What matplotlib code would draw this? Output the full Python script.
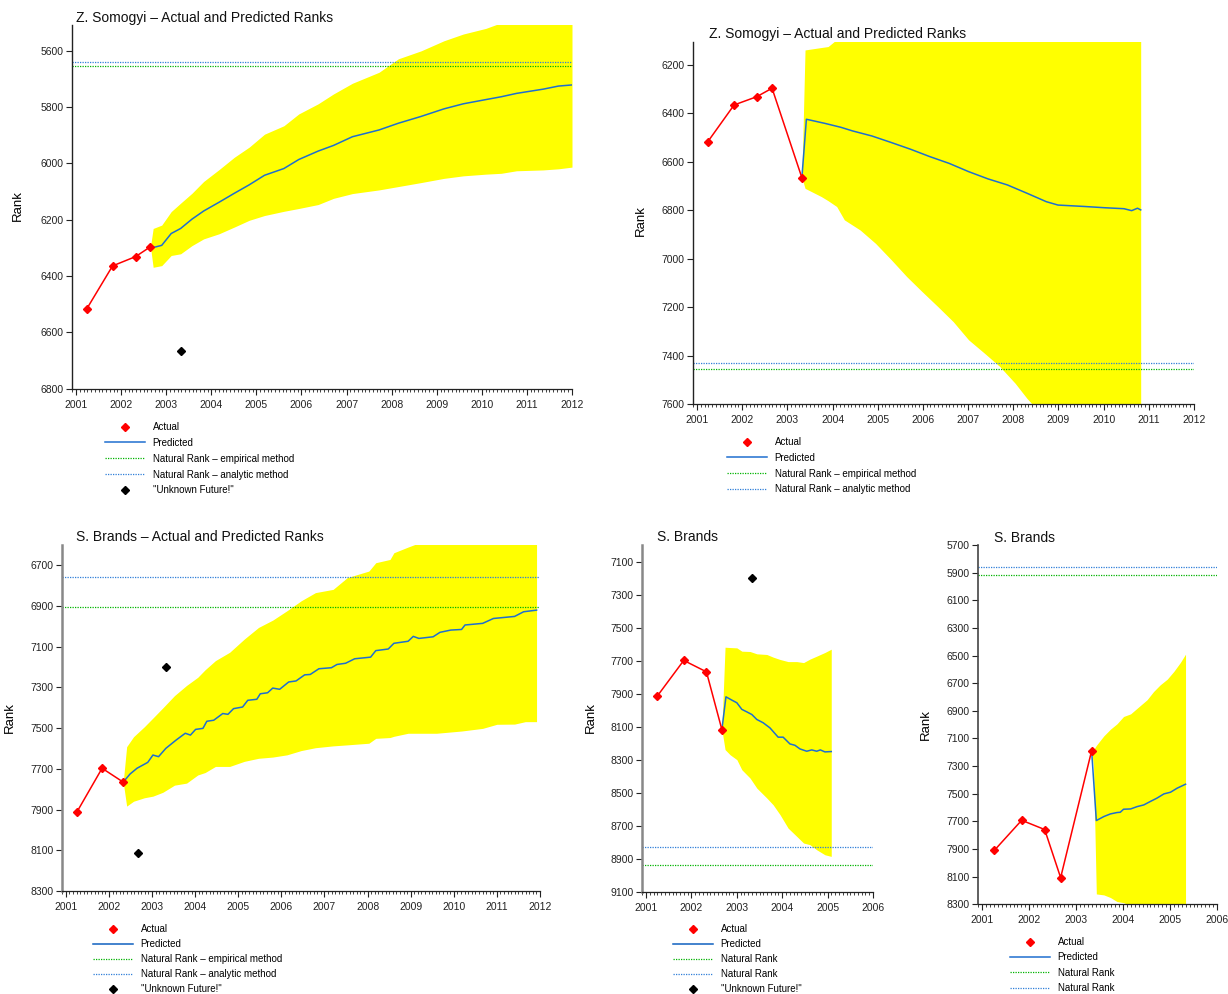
import matplotlib
matplotlib.use('Agg')
import matplotlib.pyplot as plt
import numpy as np
import matplotlib.ticker as ticker
from matplotlib.lines import Line2D

plt.rcParams['font.family'] = ['Liberation Sans', 'DejaVu Sans']

W, H = 1228, 994

# ---------------- Z. Somogyi, forecast from 2002 ----------------
zs1_actual_t = [2001.24, 2001.81, 2002.32, 2002.65]
zs1_actual = [6516, 6364, 6331, 6296]
zs1_future_t = [2003.32]
zs1_future = [6665]
zs1_pred_t = [2002.65, 2002.73, 2002.90, 2003.11, 2003.32, 2003.57, 2003.83, 2004.17, 2004.51, 2004.84,
              2005.18, 2005.61, 2005.94, 2006.37, 2006.71, 2007.13, 2007.72, 2008.15, 2008.65, 2009.16,
              2009.59, 2010.09, 2010.43, 2010.77, 2011.36, 2011.70, 2012.0]
zs1_pred = [6296, 6298, 6291, 6249, 6231, 6198, 6169, 6138, 6106, 6076,
            6042, 6018, 5986, 5956, 5936, 5905, 5881, 5857, 5833, 5806,
            5788, 5773, 5763, 5751, 5736, 5725, 5721]
zs1_band_t = [2002.65, 2002.71, 2002.90, 2003.11, 2003.32, 2003.57, 2003.83, 2004.17, 2004.51, 2004.84,
              2005.18, 2005.61, 2005.94, 2006.37, 2006.71, 2007.13, 2007.72, 2008.15, 2008.65, 2009.16,
              2009.59, 2010.09, 2010.43, 2010.77, 2011.36, 2011.70, 2012.0]
zs1_band_hi = [6296, 6231, 6219, 6171, 6141, 6106, 6064, 6022, 5978, 5942,
               5896, 5866, 5824, 5788, 5753, 5715, 5676, 5628, 5600, 5564,
               5540, 5520, 5500, 5490, 5480, 5470, 5460]
zs1_band_lo = [6296, 6369, 6363, 6327, 6321, 6292, 6268, 6250, 6226, 6202,
               6185, 6170, 6160, 6146, 6124, 6107, 6094, 6082, 6068, 6053,
               6044, 6038, 6035, 6026, 6023, 6019, 6013]
zs1_nat_emp = 5654
zs1_nat_ana = 5638

# ---------------- Z. Somogyi, forecast from 2003 ----------------
zs2_actual_t = [2001.24, 2001.82, 2002.32, 2002.66, 2003.32]
zs2_actual = [6516, 6365, 6331, 6296, 6665]
zs2_pred_t = [2003.32, 2003.42, 2003.83, 2004.18, 2004.44, 2004.87, 2005.30, 2005.73, 2006.15, 2006.58,
              2007.01, 2007.44, 2007.87, 2008.30, 2008.73, 2008.99, 2009.59, 2010.02, 2010.45, 2010.62,
              2010.75, 2010.82]
zs2_pred = [6665, 6424, 6441, 6457, 6472, 6493, 6520, 6548, 6578, 6606,
            6640, 6670, 6695, 6729, 6764, 6778, 6784, 6789, 6793, 6801,
            6791, 6798]
zs2_band_t = [2003.32, 2003.39, 2003.75, 2003.90, 2004.09, 2004.26, 2004.61, 2004.95, 2005.30, 2005.64,
              2005.98, 2006.33, 2006.67, 2007.01, 2007.36, 2007.70, 2008.04, 2008.30, 2008.47, 2010.82]
zs2_band_hi = [6665, 6138, 6128, 6124, 6095, 6090, 6080, 6070, 6060, 6050,
               6040, 6030, 6020, 6010, 6000, 5990, 5980, 5970, 5960, 5950]
zs2_band_lo = [6665, 6709, 6743, 6760, 6784, 6839, 6881, 6936, 7004, 7073,
               7135, 7197, 7259, 7334, 7389, 7444, 7513, 7575, 7610, 7650]
zs2_nat_emp = 7455
zs2_nat_ana = 7431

# ---------------- S. Brands, forecast from 2002 ----------------
sb1_actual_t = [2001.25, 2001.84, 2002.33]
sb1_actual = [7914, 7697, 7765]
sb1_future_t = [2002.67, 2003.33]
sb1_future = [8112, 7197]
sb1_pred_t = [2002.33, 2002.49, 2002.65, 2002.90, 2003.02, 2003.15, 2003.32, 2003.56, 2003.77, 2003.89,
              2004.01, 2004.18, 2004.27, 2004.43, 2004.64, 2004.76, 2004.89, 2005.10, 2005.22, 2005.43,
              2005.51, 2005.68, 2005.80, 2005.96, 2006.17, 2006.34, 2006.54, 2006.67, 2006.87, 2007.16,
              2007.29, 2007.49, 2007.70, 2008.07, 2008.19, 2008.48, 2008.61, 2008.94, 2009.06, 2009.19,
              2009.52, 2009.68, 2009.93, 2010.18, 2010.26, 2010.67, 2010.92, 2011.41, 2011.62, 2011.92]
sb1_pred = [7765, 7725, 7697, 7668, 7632, 7640, 7599, 7558, 7525, 7534,
            7506, 7501, 7466, 7461, 7428, 7432, 7404, 7396, 7363, 7358,
            7331, 7326, 7303, 7309, 7273, 7268, 7238, 7236, 7208, 7203,
            7187, 7181, 7159, 7151, 7119, 7111, 7083, 7073, 7049, 7059,
            7051, 7029, 7018, 7015, 6993, 6985, 6961, 6951, 6928, 6920]
sb1_band_t = [2002.33, 2002.41, 2002.57, 2002.82, 2003.02, 2003.25, 2003.52, 2003.80, 2004.06, 2004.23,
              2004.47, 2004.80, 2005.14, 2005.47, 2005.80, 2006.13, 2006.46, 2006.79, 2007.20, 2007.53,
              2008.03, 2008.19, 2008.52, 2008.61, 2008.94, 2009.19, 2009.60, 2010.18, 2010.67, 2011.00,
              2011.41, 2011.66, 2011.92]
sb1_band_hi = [7765, 7591, 7542, 7493, 7450, 7400, 7340, 7290, 7250, 7213,
               7168, 7127, 7062, 7005, 6969, 6923, 6874, 6834, 6818, 6760,
               6728, 6687, 6671, 6638, 6610, 6590, 6580, 6570, 6560, 6550,
               6540, 6530, 6520]
sb1_band_lo = [7765, 7883, 7859, 7842, 7834, 7815, 7780, 7770, 7730, 7718,
               7688, 7688, 7663, 7648, 7642, 7631, 7610, 7596, 7587, 7582,
               7574, 7550, 7546, 7540, 7525, 7525, 7525, 7514, 7501, 7481,
               7480, 7468, 7468]
sb1_nat_emp = 6907
sb1_nat_ana = 6755

# ---------------- S. Brands, forecast from late 2002 ----------------
sb2_actual_t = [2001.24, 2001.83, 2002.33, 2002.67]
sb2_actual = [7916, 7698, 7767, 8116]
sb2_future_t = [2003.33]
sb2_future = [7199]
sb2_pred_t = [2002.67, 2002.76, 2002.89, 2003.00, 2003.11, 2003.22, 2003.33, 2003.44, 2003.58, 2003.73,
              2003.91, 2004.02, 2004.17, 2004.28, 2004.39, 2004.54, 2004.65, 2004.76, 2004.84, 2004.94,
              2005.08]
sb2_pred = [8116, 7918, 7938, 7954, 7994, 8009, 8025, 8055, 8075, 8106,
            8162, 8162, 8203, 8211, 8233, 8247, 8239, 8247, 8239, 8251,
            8249]
sb2_band_t = [2002.67, 2002.74, 2002.85, 2003.00, 2003.11, 2003.29, 2003.44, 2003.66, 2003.80, 2003.95,
              2004.13, 2004.32, 2004.47, 2004.61, 2004.76, 2004.94, 2005.08]
sb2_band_hi = [8116, 7618, 7620, 7622, 7642, 7644, 7658, 7662, 7678, 7692,
               7705, 7705, 7711, 7690, 7672, 7650, 7630]
sb2_band_lo = [8116, 8237, 8268, 8298, 8359, 8409, 8470, 8530, 8571, 8630,
               8712, 8762, 8802, 8812, 8843, 8873, 8883]
sb2_nat_emp = 8934
sb2_nat_ana = 8825

# ---------------- S. Brands, forecast from 2003 ----------------
sb3_actual_t = [2001.26, 2001.84, 2002.33, 2002.67, 2003.33]
sb3_actual = [7909, 7692, 7759, 8107, 7189]
sb3_pred_t = [2003.33, 2003.43, 2003.59, 2003.73, 2003.87, 2003.94, 2004.01, 2004.16, 2004.30, 2004.44,
              2004.58, 2004.72, 2004.87, 2005.01, 2005.15, 2005.33]
sb3_pred = [7189, 7694, 7665, 7646, 7636, 7634, 7612, 7610, 7593, 7581,
            7556, 7532, 7501, 7489, 7460, 7431]
sb3_band_t = [2003.33, 2003.37, 2003.43, 2003.59, 2003.73, 2003.87, 2004.01, 2004.16, 2004.30, 2004.51,
              2004.65, 2004.79, 2004.94, 2005.08, 2005.22, 2005.33]
sb3_band_hi = [7189, 7182, 7150, 7081, 7033, 6994, 6941, 6922, 6881, 6820,
               6760, 6712, 6671, 6615, 6550, 6490]
sb3_band_lo = [7189, 7300, 8225, 8232, 8251, 8280, 8288, 8310, 8320, 8330,
               8340, 8350, 8360, 8370, 8380, 8390]
sb3_nat_emp = 5917
sb3_nat_ana = 5862

RED = '#ff0000'
BLUE = '#1f6fcf'
GREEN = '#00b400'
NAT_BLUE = '#2f7fd8'
YELLOW = '#ffff00'


def make_ax(left, top, right, bottom):
    return fig.add_axes([left / W, 1 - bottom / H, (right - left) / W, (bottom - top) / H])


def style_ax(ax, xmax, ylo, yhi, yticks, spine_col='#222222', spine_w=1.0):
    ax.set_xlim(2000.91, xmax)
    ax.set_ylim(ylo, yhi)
    ax.set_yticks(yticks)
    ax.set_xticks(np.arange(2001, xmax + 1))
    ax.xaxis.set_minor_locator(ticker.MultipleLocator(1 / 12))
    ax.spines['top'].set_visible(False)
    ax.spines['right'].set_visible(False)
    ax.spines['left'].set_color(spine_col)
    ax.spines['left'].set_linewidth(spine_w)
    ax.spines['bottom'].set_color('#222222')
    ax.spines['bottom'].set_linewidth(0.9)
    ax.tick_params(axis='both', which='major', labelsize=7.5, length=4, width=0.8,
                   colors='#222222', pad=2)
    ax.tick_params(axis='x', which='minor', length=2, width=0.6, colors='#222222')
    ax.tick_params(axis='x', which='major', pad=4)
    ax.set_facecolor('white')


def draw(ax, actual_t, actual, pred_t, pred, band_t, band_lo, band_hi, nat_emp, nat_ana,
         future_t=None, future=None):
    ax.fill_between(band_t, band_lo, band_hi, color=YELLOW, linewidth=0, zorder=1)
    ax.axhline(nat_ana, color=NAT_BLUE, linestyle=(0, (1, 1)), linewidth=0.9, zorder=2)
    ax.axhline(nat_emp, color=GREEN, linestyle=(0, (1, 1)), linewidth=0.9, zorder=2)
    ax.plot(pred_t, pred, color=BLUE, linewidth=1.1, zorder=3)
    ax.plot(actual_t, actual, color=RED, linewidth=1.1, marker='D', markersize=3.6, zorder=4)
    if future_t is not None:
        ax.plot(future_t, future, linestyle='None', marker='D', markersize=3.6, color='black', zorder=4)


def add_legend(ax, labels, x, y, future=True, pred_col=BLUE, spacing=0.6):
    handles = [Line2D([], [], color=RED, marker='D', markersize=3.6, linestyle='None'),
               Line2D([], [], color=pred_col, linewidth=1.1),
               Line2D([], [], color=GREEN, linestyle=(0, (1, 1)), linewidth=0.9),
               Line2D([], [], color=NAT_BLUE, linestyle=(0, (1, 1)), linewidth=0.9)]
    if future:
        handles.append(Line2D([], [], color='black', marker='D', markersize=3.6, linestyle='None'))
    ax.legend(handles, labels, loc='upper left', bbox_to_anchor=(x / W, 1 - y / H),
              bbox_transform=fig.transFigure, frameon=False, fontsize=7, handlelength=4.1,
              handletextpad=0.8, labelspacing=spacing, borderpad=0, borderaxespad=0)


def title(x, y, s):
    fig.text(x / W, 1 - y / H, s, fontsize=10, ha='left', va='center', color='#111111')


def ylab(x, y):
    fig.text(x / W, 1 - y / H, 'Rank', fontsize=9.5, rotation=90, ha='center', va='center')


fig = plt.figure(figsize=(W / 100, H / 100), dpi=100)

long_labels = ['Actual', 'Predicted', 'Natural Rank \u2013 empirical method',
               'Natural Rank \u2013 analytic method', '"Unknown Future!"']
short_labels = ['Actual', 'Predicted', 'Natural Rank', 'Natural Rank', '"Unknown Future!"']

ax1 = make_ax(72, 25, 572, 388.6)
style_ax(ax1, 2012, 6800, 5508, np.arange(5600, 6801, 200))
draw(ax1, zs1_actual_t, zs1_actual, zs1_pred_t, zs1_pred, zs1_band_t, zs1_band_lo, zs1_band_hi,
     zs1_nat_emp, zs1_nat_ana, zs1_future_t, zs1_future)
add_legend(ax1, long_labels, 105, 422)
title(76, 18, 'Z. Somogyi \u2013 Actual and Predicted Ranks')
ylab(18, 206)

ax2 = make_ax(693, 41.7, 1194, 404.3)
style_ax(ax2, 2012, 7600, 6104, np.arange(6200, 7601, 200))
draw(ax2, zs2_actual_t, zs2_actual, zs2_pred_t, zs2_pred, zs2_band_t, zs2_band_lo, zs2_band_hi,
     zs2_nat_emp, zs2_nat_ana)
add_legend(ax2, long_labels[:4], 727, 437, future=False)
title(709, 34, 'Z. Somogyi \u2013 Actual and Predicted Ranks')
ylab(641, 221)

ax3 = make_ax(62, 545, 540, 891)
style_ax(ax3, 2012, 8300, 6600, np.arange(6700, 8301, 200), spine_col='#888888', spine_w=1.8)
draw(ax3, sb1_actual_t, sb1_actual, sb1_pred_t, sb1_pred, sb1_band_t, sb1_band_lo, sb1_band_hi,
     sb1_nat_emp, sb1_nat_ana, sb1_future_t, sb1_future)
add_legend(ax3, long_labels, 93, 924, pred_col='#1060c0', spacing=0.52)
title(76, 537, 'S. Brands \u2013 Actual and Predicted Ranks')
ylab(10, 718)

ax4 = make_ax(642, 545, 873, 892.3)
style_ax(ax4, 2006, 9100, 7000, np.arange(7100, 9101, 200), spine_col='#888888', spine_w=1.8)
draw(ax4, sb2_actual_t, sb2_actual, sb2_pred_t, sb2_pred, sb2_band_t, sb2_band_lo, sb2_band_hi,
     sb2_nat_emp, sb2_nat_ana, sb2_future_t, sb2_future)
add_legend(ax4, short_labels, 673, 924, pred_col='#1060c0', spacing=0.52)
title(657, 537, 'S. Brands')
ylab(591, 718)

ax5 = make_ax(978, 545, 1217, 904.3)
style_ax(ax5, 2006, 8300, 5700, np.arange(5700, 8301, 200), spine_col='#444444', spine_w=1.2)
draw(ax5, sb3_actual_t, sb3_actual, sb3_pred_t, sb3_pred, sb3_band_t, sb3_band_lo, sb3_band_hi,
     sb3_nat_emp, sb3_nat_ana)
add_legend(ax5, short_labels[:4], 1010, 937, future=False, spacing=0.56)
title(994, 538, 'S. Brands')
ylab(926, 725)

fig.savefig('out.png', dpi=100, facecolor='white')
